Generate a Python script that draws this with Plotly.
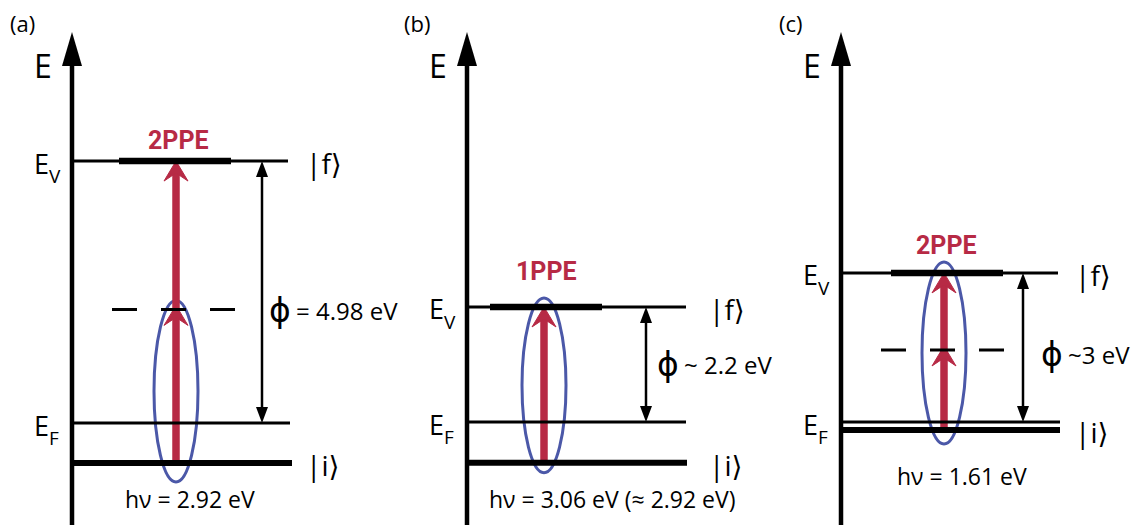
import plotly.graph_objects as go

# ---- data: photoemission energetics for the three cases ----
panel_tags = ["(a)", "(b)", "(c)"]
process_names = ["2PPE", "1PPE", "2PPE"]
work_function = [4.98, 2.2, 3.0]        # E_V - E_F in eV
photon_energy = [2.92, 3.06, 1.61]      # hν in eV
initial_state = [-0.76, -0.78, -0.16]   # |i> relative to E_F in eV
photons_used = [2, 1, 2]
phi_texts = ["= 4.98 eV", "~ 2.2 eV", "~3 eV"]
hv_texts = ["hν = 2.92 eV", "hν = 3.06 eV (≈ 2.92 eV)", "hν = 1.61 eV"]

# ---- drawing geometry (pixels) ----
W, H = 1144, 525
RED = "#b72a45"
BLUE = "#4b58a8"
BLACK = "#000000"
FONT = "Open Sans, DejaVu Sans, sans-serif"

geom = [
    dict(axis_x=72, ef_row=423, scale=52.6, ends=(288, 290, 292), thick=(119, 231),
         arrow_x=176, phi_x=262, ell_hw=22, ell_pad=(9, 19), ell_photons=1,
         dash=(112, 237), proc_shift=21, phi_shift=-18, phi_tx=295,
         ket_x=305, hv_x=190, hv_y=499),
    dict(axis_x=467, ef_row=422, scale=52.3, ends=(686, 686, 687), thick=(490, 602),
         arrow_x=544, phi_x=646, ell_hw=22, ell_pad=(9, 10), ell_photons=1,
         dash=None, proc_shift=35, phi_shift=0, phi_tx=683,
         ket_x=708, hv_x=612, hv_y=499),
    dict(axis_x=841, ef_row=422, scale=49.7, ends=(1058, 1060, 1060), thick=(891, 1003),
         arrow_x=944, phi_x=1023, ell_hw=22, ell_pad=(11, 14), ell_photons=2,
         dash=(881, 1006), proc_shift=27, phi_shift=-7, phi_tx=1067,
         ket_x=1074, hv_x=962, hv_y=476),
]

fig = go.Figure()
shapes = []
annotations = []


def prow(py):
    """pixel row -> paper fraction"""
    return 1 - py / H


def note(text, x, y, yref, size, color=BLACK, xanchor="left", yshift=0,
         family=FONT, weight="normal"):
    annotations.append(dict(text=text, showarrow=False, xref="x", yref=yref,
                            x=x, y=y, xanchor=xanchor, yanchor="middle",
                            yshift=yshift, borderpad=0,
                            font=dict(family=family, size=size, color=color,
                                      weight=weight)))


for i in range(3):
    g = geom[i]
    yname = "y" if i == 0 else f"y{i + 1}"
    s = g["scale"]
    ev = lambda px: px / s  # pixel distance -> energy distance
    e_f = 0.0
    e_v = work_function[i]
    e_i = initial_state[i]
    hv = photon_energy[i]
    ax = g["axis_x"]
    x_e, x_f, x_i = g["ends"]

    # energy axis with arrowhead
    shapes.append(dict(type="line", xref="x", yref="paper", x0=ax, x1=ax,
                       y0=0, y1=prow(62), line=dict(color=BLACK, width=4.5)))
    shapes.append(dict(type="path", xref="x", yref="paper",
                       path=f"M {ax},{prow(32)} L {ax + 10},{prow(66)} L {ax - 10},{prow(66)} Z",
                       fillcolor=BLACK, line=dict(width=0)))

    # blue ellipse around the photon absorption step(s)
    e_top = min(e_i + g["ell_photons"] * hv, e_v)
    pad_t, pad_b = g["ell_pad"]
    shapes.append(dict(type="circle", xref="x", yref=yname, layer="below",
                       x0=g["arrow_x"] - g["ell_hw"], x1=g["arrow_x"] + g["ell_hw"],
                       y0=e_i - ev(pad_b), y1=e_top + ev(pad_t),
                       line=dict(color=BLUE, width=3)))

    # red photon arrows
    ax_r = g["arrow_x"]
    shapes.append(dict(type="line", xref="x", yref=yname, layer="below",
                       x0=ax_r, x1=ax_r, y0=e_i, y1=e_v - ev(8),
                       line=dict(color=RED, width=7.5)))
    tips = [min(e_i + k * hv, e_v) for k in range(1, photons_used[i] + 1)]
    for t in tips:
        yt = t + (ev(4) if t < e_v else 0)
        shapes.append(dict(type="path", xref="x", yref=yname, layer="below",
                           path=(f"M {ax_r},{yt} L {ax_r + 12},{yt - ev(20)} "
                                 f"L {ax_r},{yt - ev(12)} L {ax_r - 12},{yt - ev(20)} Z"),
                           fillcolor=RED, line=dict(color=RED, width=1)))

    # energy levels
    fig.add_trace(go.Scatter(x=[ax, x_e], y=[e_v, e_v], yaxis=yname, mode="lines",
                             line=dict(color=BLACK, width=3), hoverinfo="skip"))
    fig.add_trace(go.Scatter(x=list(g["thick"]), y=[e_v, e_v], yaxis=yname, mode="lines",
                             line=dict(color=BLACK, width=6.5), hoverinfo="skip"))
    fig.add_trace(go.Scatter(x=[ax, x_f], y=[e_f, e_f], yaxis=yname, mode="lines",
                             line=dict(color=BLACK, width=3), hoverinfo="skip"))
    fig.add_trace(go.Scatter(x=[ax, x_i], y=[e_i, e_i], yaxis=yname, mode="lines",
                             line=dict(color=BLACK, width=6), hoverinfo="skip"))
    if g["dash"] is not None:
        e_mid = e_i + hv
        fig.add_trace(go.Scatter(x=list(g["dash"]), y=[e_mid, e_mid], yaxis=yname,
                                 mode="lines", hoverinfo="skip",
                                 line=dict(color=BLACK, width=3, dash="25px,24px")))

    # work-function double arrow
    px_ = g["phi_x"]
    fig.add_trace(go.Scatter(x=[px_, px_], y=[e_f + ev(6), e_v - ev(6)], yaxis=yname,
                             mode="lines", line=dict(color=BLACK, width=2.5),
                             hoverinfo="skip"))
    shapes.append(dict(type="path", xref="x", yref=yname,
                       path=f"M {px_},{e_v} L {px_ + 6},{e_v - ev(16)} L {px_ - 6},{e_v - ev(16)} Z",
                       fillcolor=BLACK, line=dict(width=0)))
    shapes.append(dict(type="path", xref="x", yref=yname,
                       path=f"M {px_},{e_f} L {px_ + 6},{e_f + ev(16)} L {px_ - 6},{e_f + ev(16)} Z",
                       fillcolor=BLACK, line=dict(width=0)))

    # texts
    note(panel_tags[i], ax - 50, prow(23), "paper", 22, xanchor="center")
    note("E", ax - 39, prow(66), "paper", 32)
    for lvl, sub in ((e_v, "V"), (e_f, "F")):
        note("E", ax - 39, lvl, yname, 27, yshift=-2)
        note(sub, ax - 24, lvl, yname, 19, yshift=-15)
    note("|f⟩", g["ket_x"], e_v, yname, 28, yshift=-2)
    note("|i⟩", g["ket_x"], e_i, yname, 28, yshift=-2)
    note(process_names[i], ax_r + 2, e_v, yname, 25, color=RED, xanchor="center",
         yshift=g["proc_shift"], family="Roboto, Open Sans, sans-serif", weight="bold")
    e_mid_phi = (e_f + e_v) / 2
    note("ϕ", g["phi_tx"] - 3, e_mid_phi, yname, 33, xanchor="right",
         yshift=g["phi_shift"] + 1)
    note(phi_texts[i], g["phi_tx"], e_mid_phi, yname, 24, yshift=g["phi_shift"])
    note(hv_texts[i], g["hv_x"], prow(g["hv_y"]), "paper", 23, xanchor="center")

# per-panel energy axes sharing one pixel-wide horizontal axis
layout_axes = {}
for i in range(3):
    g = geom[i]
    s = g["scale"]
    rng = [-(H - g["ef_row"]) / s, g["ef_row"] / s]
    key = "yaxis" if i == 0 else f"yaxis{i + 1}"
    ax_def = dict(range=rng, visible=False, fixedrange=True, domain=[0, 1])
    if i > 0:
        ax_def["overlaying"] = "y"
    layout_axes[key] = ax_def

fig.update_layout(
    width=W, height=H,
    margin=dict(l=0, r=0, t=0, b=0, pad=0),
    paper_bgcolor="white", plot_bgcolor="white",
    showlegend=False,
    xaxis=dict(range=[0, W], visible=False, fixedrange=True, domain=[0, 1]),
    shapes=shapes,
    annotations=annotations,
    **layout_axes,
)

fig.write_html("out.html")
